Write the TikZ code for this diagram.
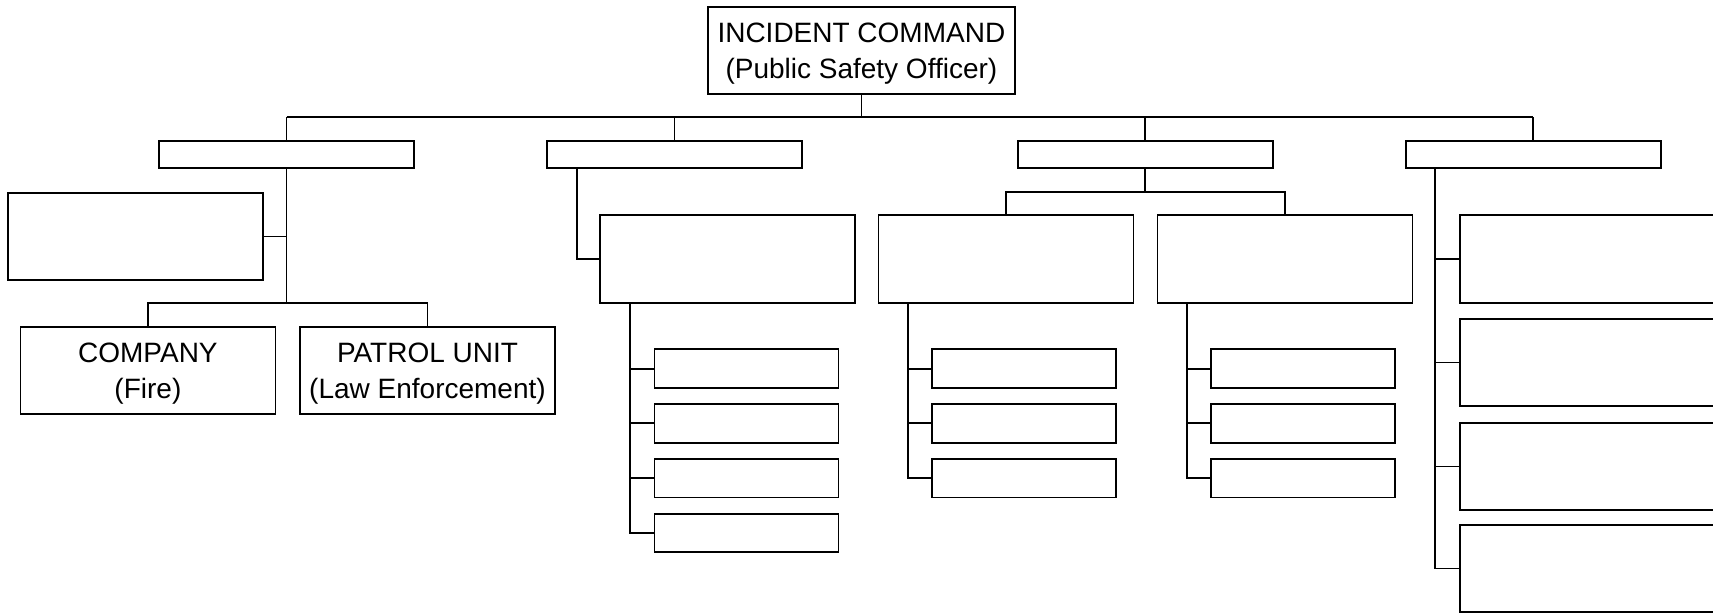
\documentclass[tikz,border=0pt]{standalone}
\usepackage{fontspec}
\setmainfont{Liberation Sans}
\usetikzlibrary{calc}

\tikzset{
  org_box/.style={draw, minimum width=255pt, minimum height=87.6pt, inner sep=0pt,
      align=center, text depth=0pt, font=\fontsize{28}{35.5}\selectfont},
  org_bar/.style={org_box, minimum height=27.6pt},
  org_unit/.style={org_box, minimum width=184pt, minimum height=38.7pt}
}
\def\BusY {117.3}

\begin{document}
\begin{tikzpicture}[x=1pt,y=-1pt,line width=1.8pt]
        \useasboundingbox (0,0) rectangle (1713,613);
        \clip (0,0) rectangle (1713,613);
        \coordinate (bus) at (0,\BusY);
        \node[org_box, minimum width=307.5pt] (ic) at (861.4,50.5) {INCIDENT COMMAND\\(Public Safety Officer)};
        \draw (ic.south) -- (ic.south |- bus);
        \foreach \s/\xx in {1/286.5,2/674.5,3/1145.3,4/1533.3} {
            \node[org_bar] (s\s) at (\xx,154.5) {};
            \draw (s\s.north) -- (s\s.north |- bus);
          }
        \draw (s1.north |- bus) -- (s4.north |- bus);
        % first branch
        \coordinate (j1) at (286.5,303.3);
        \node[org_box] (side1) at (135.75,236.5) {};
        \node[org_box] (fire) at (147.9,370.5) {COMPANY\\(Fire)};
        \node[org_box] (law) at (427.5,370.5) {PATROL UNIT\\(Law Enforcement)};
        \draw (s1.south) -- (j1);
        \draw (side1.east) -- (side1.east -| j1);
        \draw (fire.north) |- (j1) -| (law.north);
        % second branch
        \node[org_box] (sect2) at (727.3,258.9) {};
        \draw ([xshift=31pt]s2.south west) |- (sect2.west);
        \foreach \k/\yy in {1/368.7,2/423.3,3/478.2,4/533} {
            \node[org_unit] (u2\k) at (746.5,\yy) {};
            \draw ([xshift=31pt]sect2.south west) |- (u2\k.west);
          }
        % third branch
        \coordinate (j3) at (1145.3,191.7);
        \node[org_box] (grp3a) at (1006,258.9) {};
        \node[org_box] (grp3b) at (1285,258.9) {};
        \draw (s3.south) -- (j3);
        \draw (grp3a.north) |- (j3) -| (grp3b.north);
        \foreach \g/\xx in {a/1024.2,b/1303.2} {
            \foreach \k/\yy in {1/368.7,2/423.3,3/478.2} {
                \node[org_unit] (u3\g\k) at (\xx,\yy) {};
                \draw ([xshift=30pt]grp3\g.south west) |- (u3\g\k.west);
              }
          }
        % fourth branch
        \foreach \k/\yy in {1/258.9,2/362.5,3/466.4,4/568.4} {
            \node[org_box] (r4\k) at (1587.3,\yy) {};
            \draw ([xshift=30pt]s4.south west) |- (r4\k.west);
          }
      \end{tikzpicture}
\end{document}
